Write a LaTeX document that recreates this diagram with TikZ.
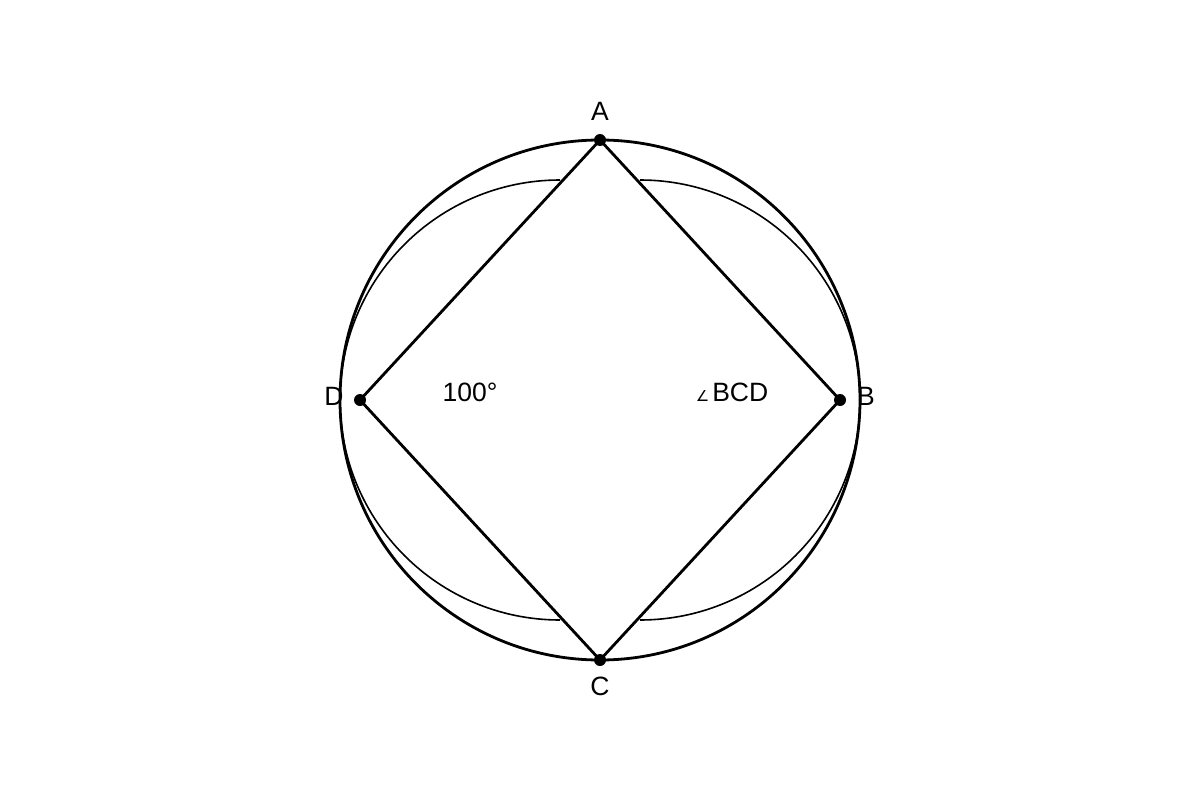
\documentclass[tikz,border=0pt]{standalone}
\usepackage{fontspec}
\setmainfont{Liberation Sans}
\newfontfamily\dejavu{DejaVu Sans}
\begin{document}
\begin{tikzpicture}[x=1pt,y=-1pt,
  edge/.style={line width=2.8pt},
  thinarc/.style={line width=1.6pt},
  dot/.style={circle,fill=black,inner sep=0pt,minimum size=12pt},
  lbl/.style={font=\fontsize{26.5}{30}\selectfont,inner sep=0pt}]
\useasboundingbox (0,0) rectangle (1200,800);
\node[dot] (A) at (600,140) {};
\node[dot] (B) at (840,400) {};
\node[dot] (C) at (600,660) {};
\node[dot] (D) at (360,400) {};
\draw[edge] (600,400) circle[radius=260];
\draw[thinarc] (560,180) arc[start angle=-90,end angle=-270,radius=220];
\draw[thinarc] (640,180) arc[start angle=-90,end angle=90,radius=220];
\draw[edge,line join=round] (A.center) -- (B.center) -- (C.center) -- (D.center) -- cycle;
\node[lbl] (lA) at (600,111) {A};
\node[lbl] (lB) at (866,396) {B};
\node[lbl] (lC) at (600,686) {C};
\node[lbl] (lD) at (334,396) {D};
\node[lbl] (l100) at (470,392) {100°};
\node[lbl] (lbcd) at (732,392) {{\dejavu\fontsize{15}{18}\selectfont ∠}\hspace{3pt}BCD};
\end{tikzpicture}
\end{document}
